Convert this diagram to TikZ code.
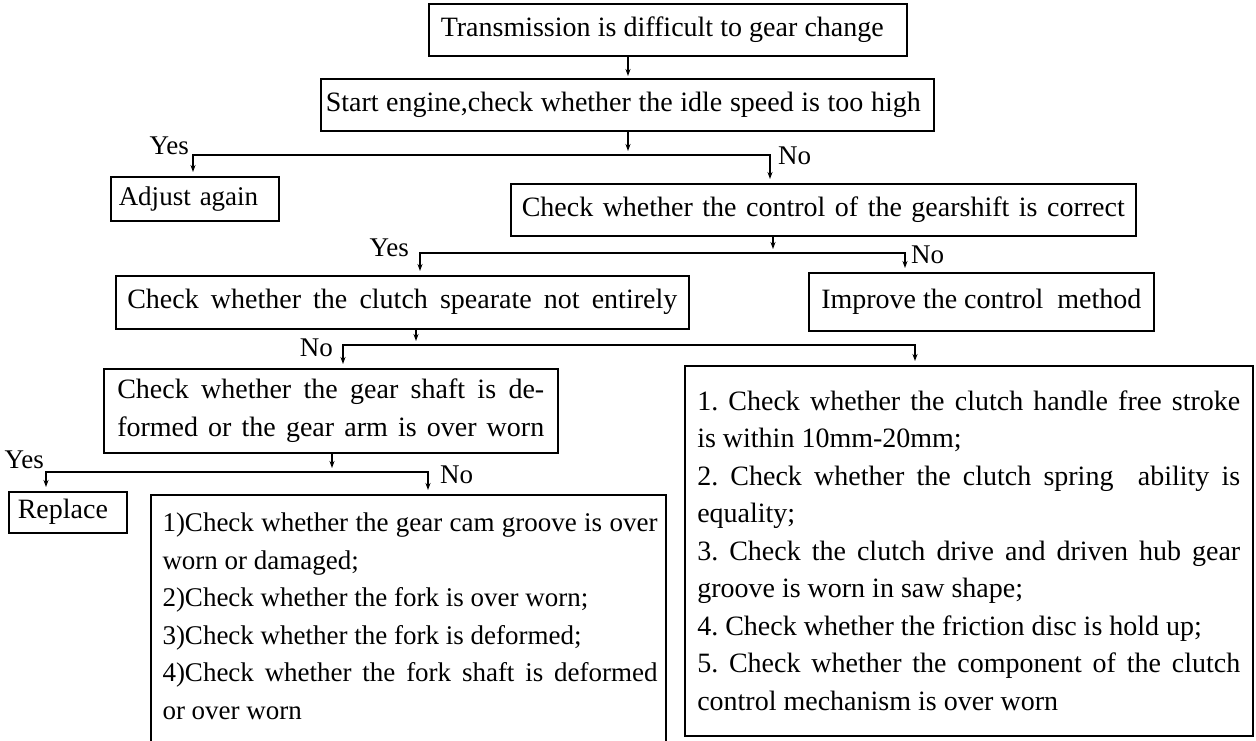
\documentclass[tikz,border=0pt]{standalone}
\usepackage{fontspec}
\setmainfont{Liberation Serif}
\usetikzlibrary{arrows.meta}
\frenchspacing
\begin{document}
\begin{tikzpicture}[x=1pt,y=-1pt,
  every node/.style={font=\fontsize{28}{37.5}\selectfont},
  small/.style={font=\fontsize{27}{37.5}\selectfont},
  box/.style={draw, line width=1.5pt, rectangle, anchor=north west, inner sep=0pt},
  txt/.style={inner sep=0pt, align=left},
  lbl/.style={inner sep=0pt, small},
  conn/.style={line width=1.2pt},
  arr/.style={conn, -{Stealth[length=7pt,width=5pt]}, shorten >=4pt}
]
\clip (0,0) rectangle (1256,740);
\fill[white] (0,0) rectangle (1256,740);

% boxes
\node[box, minimum width=478pt, minimum height=52pt] (b1) at (428,3)
  {\makebox[443pt][s]{Transmission is difficult to gear change}\hspace*{11pt}};
\node[box, minimum width=613pt, minimum height=52pt] (b2) at (320,78)
  {\makebox[595pt][s]{Start engine,check whether the idle speed is too high}\hspace*{8pt}};
\node[box, small, minimum height=44pt, text width=152pt, inner xsep=8pt, align=left] (adj) at (110,176) {Adjust again};
\node[box, minimum width=625pt, minimum height=52pt] (b3) at (510,183)
  {\makebox[603pt][s]{Check whether the control of the gearshift is correct}};
\node[box, minimum width=573pt, minimum height=53pt] (b4) at (115,275)
  {\makebox[550pt][s]{Check whether the clutch spearate not entirely}};
\node[box, minimum width=345pt, minimum height=58pt] (b5) at (808,272)
  {\makebox[320pt][s]{Improve the control\ \ method}};
\node[box, minimum width=454pt, minimum height=84pt, align=left] (b6) at (103,368)
  {\makebox[427pt][s]{Check whether the gear shaft is de-}\\
   \makebox[427pt][s]{formed or the gear arm is over worn}};
\node[box, minimum width=568pt, minimum height=370pt, align=left] (b7) at (684,365)
  {\makebox[543pt][s]{1. Check whether the clutch handle free stroke}\\
   is within 10mm-20mm;\\
   \makebox[543pt][s]{2. Check whether the clutch spring\ \ ability is}\\
   equality;\\
   \makebox[543pt][s]{3. Check the clutch drive and driven hub gear}\\
   groove is worn in saw shape;\\
   4. Check whether the friction disc is hold up;\\
   \makebox[543pt][s]{5. Check whether the component of the clutch}\\
   control mechanism is over worn};
\node[box, minimum height=41pt, text width=100pt, inner xsep=9pt, align=left] (rep) at (8,491) {Replace};
\node[box, minimum width=515pt, minimum height=270pt] (b8) at (150,494) {};
\node[txt, small] (b8t) at (410,616.5)
  {\makebox[495pt][s]{1)Check whether the gear cam groove is over}\\
   worn or damaged;\\
   2)Check whether the fork is over worn;\\
   3)Check whether the fork is deformed;\\
   \makebox[495pt][s]{4)Check whether the fork shaft is deformed}\\
   or over worn};

% junction coordinates
\coordinate (x0) at (628,0);
\coordinate (s1m) at (628,155);
\coordinate (s1l) at (193,155);
\coordinate (s1r) at (770,155);
\coordinate (s2m) at (773,253);
\coordinate (s2l) at (420,253);
\coordinate (s2r) at (905,253);
\coordinate (s3m) at (416,345);
\coordinate (s3l) at (343,345);
\coordinate (s3r) at (915,345);
\coordinate (s4m) at (332,472);
\coordinate (s4l) at (46,472);
\coordinate (s4r) at (428,472);

% connectors
\draw[arr, shorten >=2pt] (b1.south -| x0) -- (b2.north -| x0);
\draw[arr] (b2.south -| s1m) -- (s1m);
\draw[arr] (s1m) -| (adj.north -| s1l);
\draw[arr] (s1m) -| (b3.north -| s1r);

\draw[arr] (b3.south -| s2m) -- (s2m);
\draw[arr] (s2m) -| (b4.north -| s2l);
\draw[arr] (s2m) -| (b5.north -| s2r);

\draw[arr] (b4.south -| s3m) -- (s3m);
\draw[arr] (s3m) -| (b6.north -| s3l);
\draw[arr] (s3m) -| (b7.north -| s3r);

\draw[arr] (b6.south -| s4m) -- (s4m);
\draw[arr] (s4m) -| (rep.north -| s4l);
\draw[arr] (s4m) -| (b8.north -| s4r);

% labels
\node[lbl, anchor=base east] (y1) at (189,154) {Yes};
\node[lbl, anchor=base west] (n1) at (778,164) {No};
\node[lbl, anchor=base east] (y2) at (409,256) {Yes};
\node[lbl, anchor=base west] (n2) at (911,263) {No};
\node[lbl, anchor=base east] (n3) at (333,356) {No};
\node[lbl, anchor=base east] (y4) at (44,468) {Yes};
\node[lbl, anchor=base west] (n4) at (440,483) {No};
\end{tikzpicture}
\end{document}
